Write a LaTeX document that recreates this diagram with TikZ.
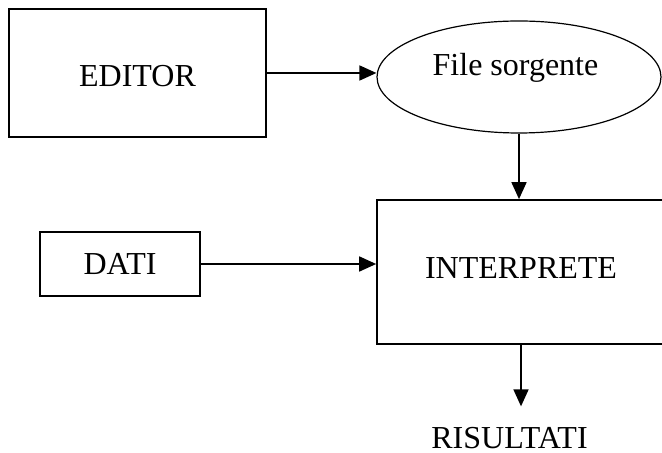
\documentclass[tikz,border=0pt]{standalone}
\usepackage{fontspec}
\setmainfont{Liberation Serif}
\usetikzlibrary{shapes.geometric,arrows.meta}
\begin{document}
\begin{tikzpicture}[x=0.5pt,y=-0.5pt,font=\fontsize{16}{19}\selectfont]
\tikzset{blocco/.style={draw, line width=0.85pt, inner sep=0pt},
  ovale/.style={draw, ellipse, line width=0.6pt, inner sep=0pt, minimum width=142pt, minimum height=56pt},
  freccia/.style={line width=0.85pt, -{Triangle[length=8.5pt,width=7.5pt]}},
  testo/.style={inner sep=0pt}}
\useasboundingbox (0,0) rectangle (662,453);
\node[blocco, minimum width=128.5pt, minimum height=64pt, text height=14pt] (E) at (137.5,73) {EDITOR};
\node[ovale] (F) at (519,77) {};
\node[testo] (Ft) at (515.5,67.5) {File sorgente};
\node[blocco, minimum width=80pt, minimum height=32pt] (D) at (120,264) {DATI};
\node[blocco, minimum width=144pt, minimum height=72pt, text depth=3.5pt] (I) at (521,272) {INTERPRETE};
\node[testo] (R) at (509.5,438) {RISULTATI};
\draw[freccia] (E.east) -- (E.east -| F.west);
\draw[freccia] (F.south) -- (F.south |- I.north);
\draw[freccia] (D.east) -- (D.east -| I.west);
\draw[freccia, shorten >=10.25pt] (I.south) -- (I.south |- R.north);
\end{tikzpicture}
\end{document}
